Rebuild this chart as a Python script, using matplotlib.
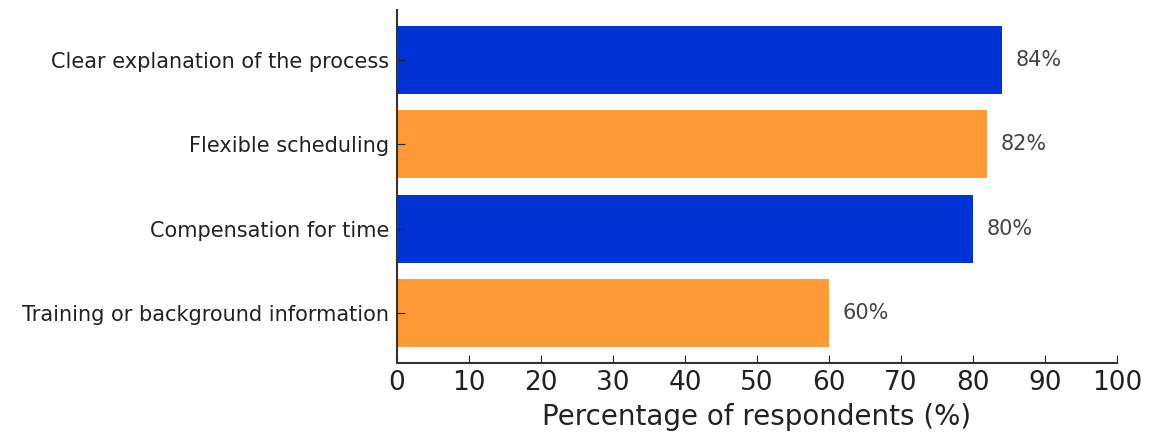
import matplotlib
matplotlib.use("Agg")
import matplotlib.pyplot as plt

# survey items, top to bottom
items = ["Clear explanation of the process", "Flexible scheduling",
         "Compensation for time", "Training or background information"]
pcts = [84, 82, 80, 60]
bar_colors = ["#0033d6", "#ff9a37", "#0033d6", "#ff9a37"]

fig = plt.figure(figsize=(11.57, 4.36), dpi=100)
ax = fig.add_axes([397 / 1157, 1 - 363 / 436, 720 / 1157, 353 / 436])

ypos = list(range(len(items)))[::-1]
ax.barh(ypos, pcts, color=bar_colors, height=0.8)

for y, v in zip(ypos, pcts):
    ax.text(v + 1.9, y, f"{v}%", va="center", ha="left", fontsize=15, color="#444444")

ax.set_yticks(ypos)
ax.set_yticklabels(items, fontsize=15, color="#222222")
ax.set_xlim(0, 100)
ax.set_xticks(range(0, 101, 10))
ax.tick_params(axis="x", labelsize=19, direction="in", length=6, pad=5, colors="#222222")
ax.tick_params(axis="y", direction="in", length=6, pad=5.5, colors="#222222")
ax.set_xlabel("Percentage of respondents (%)", fontsize=20, color="#222222", labelpad=5)

for s in ["top", "right"]:
    ax.spines[s].set_visible(False)
for s in ["left", "bottom"]:
    ax.spines[s].set_color("#333333")
    ax.spines[s].set_linewidth(1.5)

fig.savefig("out.png", dpi=100)
